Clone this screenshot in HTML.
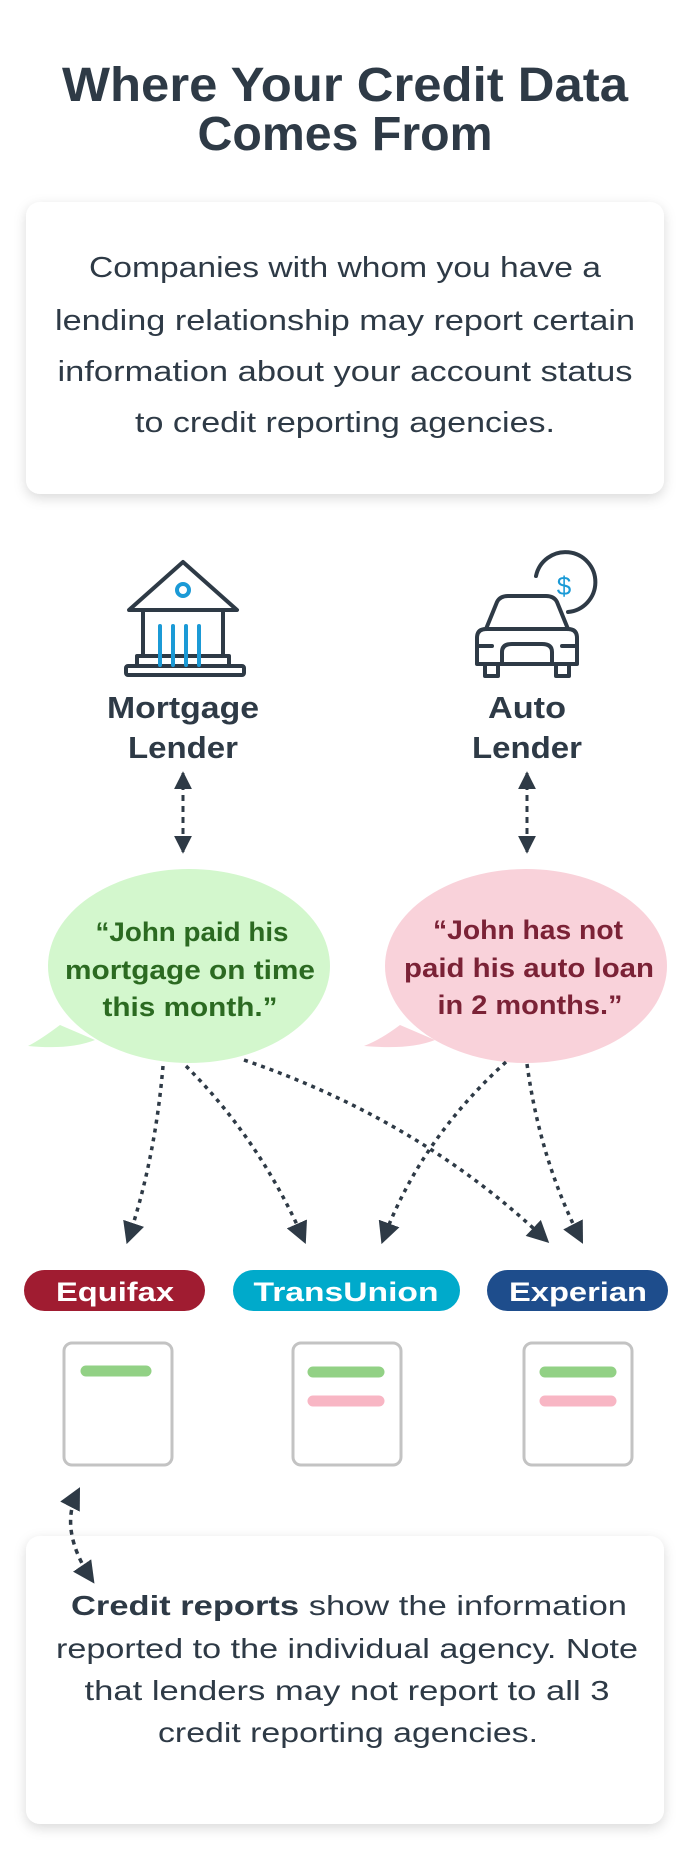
<!DOCTYPE html>
<html><head><meta charset="utf-8"><style>
html,body{margin:0;padding:0;background:#fff;}
svg{display:block;}
text{font-family:"Liberation Sans",sans-serif;}
</style></head><body>
<svg width="690" height="1868" viewBox="0 0 690 1868" xmlns="http://www.w3.org/2000/svg">
<defs>
<filter id="sh" x="-10%" y="-10%" width="120%" height="130%">
<feDropShadow dx="0" dy="4" stdDeviation="6" flood-color="#000" flood-opacity="0.15"/>
</filter>
<marker id="ah2" viewBox="0 0 10 10" refX="8" refY="5" markerWidth="22" markerHeight="22" orient="auto-start-reverse" markerUnits="userSpaceOnUse">
<path d="M0,0 L10,5 L0,10 z" fill="#2e3a46"/>
</marker>
<marker id="ah3" viewBox="0 0 10 10" refX="9" refY="5" markerWidth="18" markerHeight="18" orient="auto-start-reverse" markerUnits="userSpaceOnUse">
<path d="M0,0 L10,5 L0,10 z" fill="#2e3a46"/>
</marker>
</defs>

<!-- Title -->
<text x="345" y="101" text-anchor="middle" font-size="48" font-weight="bold" fill="#2e3a46" textLength="566" lengthAdjust="spacingAndGlyphs">Where Your Credit Data</text>
<text x="345" y="150" text-anchor="middle" font-size="48" font-weight="bold" fill="#2e3a46" textLength="295" lengthAdjust="spacingAndGlyphs">Comes From</text>

<!-- Card 1 -->
<rect x="26" y="202" width="638" height="292" rx="14" fill="#fff" filter="url(#sh)"/>
<g font-size="29" fill="#2e3a46" text-anchor="middle">
<text x="345" y="277" textLength="512" lengthAdjust="spacingAndGlyphs">Companies with whom you have a</text>
<text x="345" y="330" textLength="580" lengthAdjust="spacingAndGlyphs">lending relationship may report certain</text>
<text x="345" y="381" textLength="575" lengthAdjust="spacingAndGlyphs">information about your account status</text>
<text x="345" y="432" textLength="420" lengthAdjust="spacingAndGlyphs">to credit reporting agencies.</text>
</g>

<!-- Bank icon -->
<g fill="none" stroke="#2e3a46" stroke-width="4" stroke-linejoin="round">
<path d="M129,610 L183,562 L237,610 Z"/>
<rect x="143" y="610" width="80" height="46"/>
<rect x="137" y="656" width="92" height="10"/>
<rect x="126" y="666" width="118" height="9" rx="2"/>
</g>
<circle cx="183" cy="590" r="6" fill="none" stroke="#1b9ad6" stroke-width="4"/>
<g stroke="#1b9ad6" stroke-width="4" stroke-linecap="round">
<line x1="160" y1="626" x2="160" y2="665"/><line x1="173" y1="626" x2="173" y2="665"/>
<line x1="186" y1="626" x2="186" y2="665"/><line x1="199" y1="626" x2="199" y2="665"/>
</g>

<!-- Car icon -->
<g fill="none" stroke="#2e3a46" stroke-width="4" stroke-linejoin="round" stroke-linecap="round">
<path d="M486,629 L497,602 Q500,596 508,596 L546,596 Q554,596 557,602 L568,629"/>
<path d="M477,638 Q477,629 486,629 L568,629 Q577,629 577,638 L577,664 L477,664 Z"/>
<line x1="477" y1="646" x2="492" y2="646"/><line x1="562" y1="646" x2="577" y2="646"/>
<path d="M502,664 L502,652 Q502,644 512,644 L542,644 Q552,644 552,652 L552,664"/>
<path d="M485,664 L485,676 L498,676 L498,664"/>
<path d="M556,664 L556,676 L569,676 L569,664"/>
<path d="M536,576 A30,30 0 1 1 568,612"/>
</g>
<text x="564" y="595" text-anchor="middle" font-size="26" fill="#1b9ad6">$</text>

<!-- Lender labels -->
<g font-size="31" font-weight="bold" fill="#2e3a46" text-anchor="middle">
<text x="183" y="718" textLength="152" lengthAdjust="spacingAndGlyphs">Mortgage</text>
<text x="183" y="758" textLength="110" lengthAdjust="spacingAndGlyphs">Lender</text>
<text x="527" y="718" textLength="78" lengthAdjust="spacingAndGlyphs">Auto</text>
<text x="527" y="758" textLength="110" lengthAdjust="spacingAndGlyphs">Lender</text>
</g>

<!-- vertical double arrows -->
<g stroke="#2e3a46" stroke-width="3" stroke-dasharray="6,5" fill="none">
<line x1="183" y1="773" x2="183" y2="852" marker-start="url(#ah3)" marker-end="url(#ah3)"/>
<line x1="527" y1="773" x2="527" y2="852" marker-start="url(#ah3)" marker-end="url(#ah3)"/>
</g>

<!-- Bubbles -->
<path d="M60,1025 Q40,1040 28,1046 Q70,1050 95,1040 Z" fill="#d3f7cd"/>
<ellipse cx="189" cy="966" rx="141" ry="97" fill="#d3f7cd"/>
<path d="M400,1025 Q380,1040 364,1046 Q410,1050 435,1040 Z" fill="#f9d2da"/>
<ellipse cx="526" cy="966" rx="141" ry="97" fill="#f9d2da"/>
<g font-size="27" font-weight="bold" text-anchor="middle">
<text x="192" y="941" fill="#2b6a21" textLength="193" lengthAdjust="spacingAndGlyphs">“John paid his</text>
<text x="190" y="979" fill="#2b6a21" textLength="250" lengthAdjust="spacingAndGlyphs">mortgage on time</text>
<text x="190" y="1016" fill="#2b6a21" textLength="175" lengthAdjust="spacingAndGlyphs">this month.”</text>
<text x="528" y="939" fill="#7b2236" textLength="190" lengthAdjust="spacingAndGlyphs">“John has not</text>
<text x="529" y="977" fill="#7b2236" textLength="250" lengthAdjust="spacingAndGlyphs">paid his auto loan</text>
<text x="530" y="1014" fill="#7b2236" textLength="185" lengthAdjust="spacingAndGlyphs">in 2 months.”</text>
</g>

<!-- connectors -->
<g stroke="#2e3a46" stroke-width="3.5" stroke-dasharray="4,5" fill="none">
<path d="M163,1066 Q155,1160 128,1240" marker-end="url(#ah2)"/>
<path d="M186,1066 Q260,1140 304,1240" marker-end="url(#ah2)"/>
<path d="M244,1060 Q420,1120 546,1240" marker-end="url(#ah2)"/>
<path d="M506,1062 Q420,1140 383,1240" marker-end="url(#ah2)"/>
<path d="M527,1064 Q540,1160 581,1240" marker-end="url(#ah2)"/>
</g>

<!-- Pills -->
<rect x="24" y="1270" width="181" height="41" rx="20.5" fill="#a01c31"/>
<rect x="233" y="1270" width="227" height="41" rx="20.5" fill="#00aacb"/>
<rect x="487" y="1270" width="181" height="41" rx="20.5" fill="#1e4d8c"/>
<g font-size="27" font-weight="bold" fill="#fff" text-anchor="middle">
<text x="115" y="1301" textLength="118" lengthAdjust="spacingAndGlyphs">Equifax</text>
<text x="346" y="1301" textLength="185" lengthAdjust="spacingAndGlyphs">TransUnion</text>
<text x="578" y="1301" textLength="138" lengthAdjust="spacingAndGlyphs">Experian</text>
</g>

<!-- Report boxes -->
<g fill="#fff" stroke="#c3c3c3" stroke-width="3">
<rect x="64" y="1343" width="108" height="122" rx="8"/>
<rect x="293" y="1343" width="108" height="122" rx="8"/>
<rect x="524" y="1343" width="108" height="122" rx="8"/>
</g>
<g stroke-linecap="round" stroke-width="11">
<line x1="86" y1="1371" x2="146" y2="1371" stroke="#92d185"/>
<line x1="313" y1="1372" x2="379" y2="1372" stroke="#92d185"/>
<line x1="313" y1="1401" x2="379" y2="1401" stroke="#f8b6c4"/>
<line x1="545" y1="1372" x2="611" y2="1372" stroke="#92d185"/>
<line x1="545" y1="1401" x2="611" y2="1401" stroke="#f8b6c4"/>
</g>

<!-- Bottom card -->
<rect x="26" y="1536" width="638" height="288" rx="14" fill="#fff" filter="url(#sh)"/>
<g stroke="#2e3a46" stroke-width="3.5" stroke-dasharray="5,5" fill="none">
<path d="M78,1491 Q58,1530 92,1580" marker-start="url(#ah2)" marker-end="url(#ah2)"/>
</g>
<g font-size="28" fill="#2e3a46" text-anchor="middle">
<text x="349" y="1615" textLength="556" lengthAdjust="spacingAndGlyphs"><tspan font-weight="bold">Credit reports</tspan> show the information</text>
<text x="347" y="1658" textLength="582" lengthAdjust="spacingAndGlyphs">reported to the individual agency. Note</text>
<text x="347" y="1700" textLength="525" lengthAdjust="spacingAndGlyphs">that lenders may not report to all 3</text>
<text x="348" y="1742" textLength="380" lengthAdjust="spacingAndGlyphs">credit reporting agencies.</text>
</g>
</svg>
</body></html>
